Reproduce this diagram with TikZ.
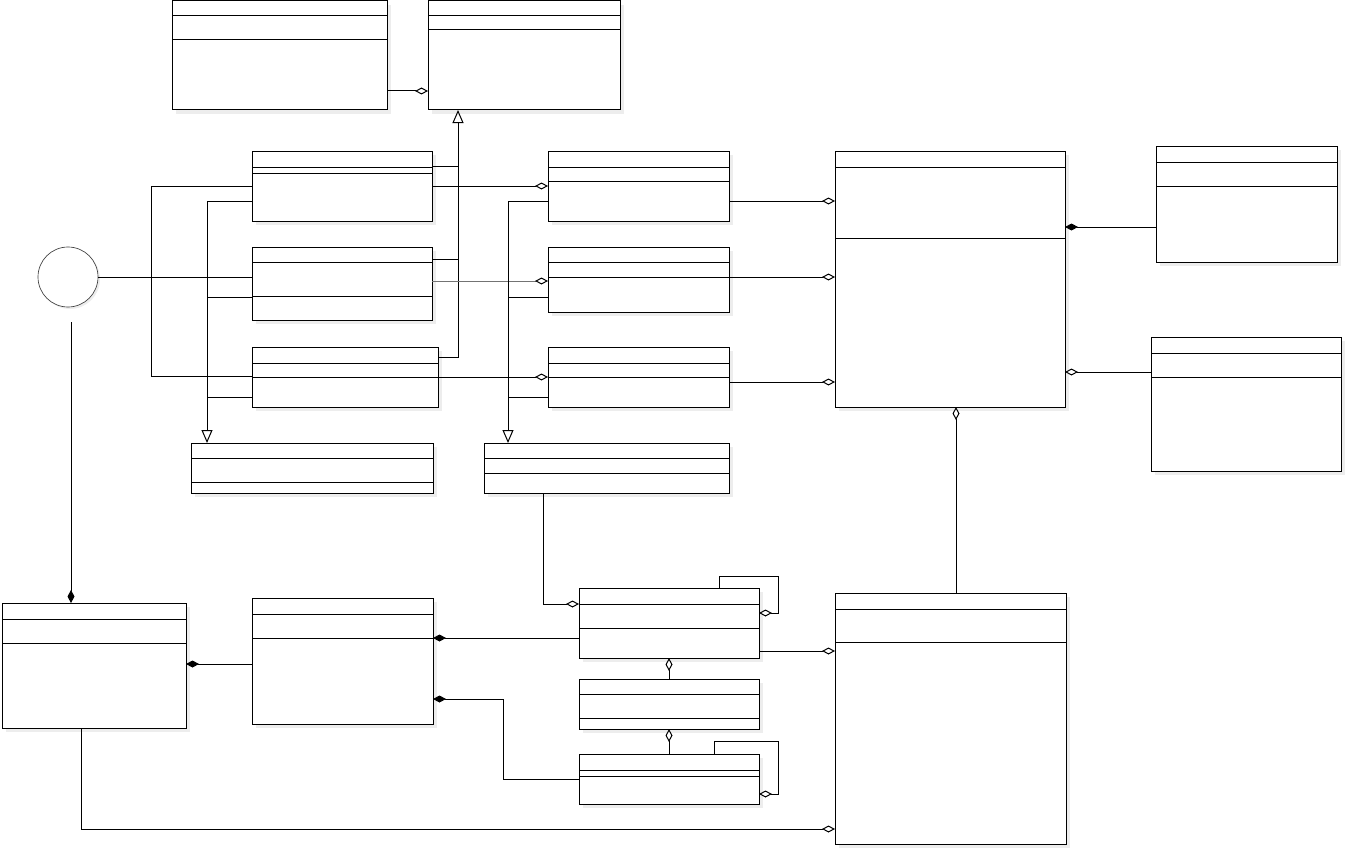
\documentclass[tikz,border=0pt]{standalone}
\usetikzlibrary{arrows.meta}
\tikzset{
 cls/.style={draw=black, fill=white, line width=0.75pt, inner sep=0pt, outer sep=0pt, anchor=north west},
 shd/.style={fill=black!7, draw=none},
 con/.style={line width=0.75pt},
 agg/.style={con, -{Diamond[open,fill=white,length=9.75pt,width=5.25pt]}},
 aggk/.style={con, -{Diamond[open,fill=white,color=black,length=9.75pt,width=5.25pt]}},
 comp/.style={con, -{Diamond[length=9.75pt,width=5.25pt]}},
 gen/.style={con, -{Triangle[open,fill=white,length=9.75pt,width=8.25pt]}},
}
\newcommand\umlcls[7]{%
 \fill[shd] (#2+4,#3+4) rectangle (#4+4,#5+4);
 \node[cls, minimum width={(#4-#2)*0.75pt}, minimum height={(#5-#3)*0.75pt}] (#1) at (#2,#3) {};
 \draw[con] (#2,#6) -- (#4,#6) (#2,#7) -- (#4,#7);
}
\begin{document}
\begin{tikzpicture}[x=0.75pt,y=-0.75pt]
\useasboundingbox (0,0) rectangle (1346,849);
% classes
\umlcls{A}{172}{1}{387}{110}{16}{40}
\umlcls{B}{428}{1}{620}{110}{16}{30}
\umlcls{C1}{252}{151}{432}{221}{167}{173}
\umlcls{C2}{252}{247}{432}{320}{262}{296}
\umlcls{C3}{252}{347}{438}{407}{363}{377}
\umlcls{D1}{191}{443}{433}{493}{458}{482}
\umlcls{D2}{484}{443}{729}{493}{458}{473}
\umlcls{E1}{548}{151}{729}{221}{167}{181}
\umlcls{E2}{548}{247}{729}{312}{262}{277}
\umlcls{E3}{548}{347}{729}{407}{363}{377}
\umlcls{F}{835}{151}{1065}{407}{167}{238}
\umlcls{G}{1156}{146}{1337}{262}{162}{186}
\umlcls{H}{1151}{337}{1341}{471}{353}{377}
\umlcls{J}{835}{593}{1066}{844}{609}{642}
\umlcls{K}{2}{603}{186}{728}{619}{643}
\umlcls{L}{252}{598}{433}{724}{614}{638}
\umlcls{M}{579}{588}{759}{658}{604}{628}
\umlcls{P}{579}{679}{759}{729}{694}{718}
\umlcls{N}{579}{754}{759}{804}{770}{776}
% interface circle
\fill[shd] (70,279) circle (30);
\node[draw=black!75, fill=white, circle, line width=0.5pt, minimum size=45pt, inner sep=0pt, outer sep=0pt] (I) at (68,277) {};
\coordinate (t) at (71,322);
% connectors
\draw[agg] (A.east |- 0,91) -- (B.west |- 0,91);
\draw[gen] (C3.east |- 0,357) -- (458,357) -- (B.south -| 458,0);
\draw[con] (C1.east |- 0,166) -- (458,166);
\draw[con] (C2.east |- 0,259) -- (458,259);
\draw[con] (I.east) -- (C2.west |- 0,277);
\draw[con] (C1.west |- 0,186) -- (151,186) -- (151,376) -- (C3.west |- 0,376);
\draw[gen] (C1.west |- 0,201) -- (207,201) -- (D1.north -| 207,0);
\draw[con] (C2.west |- 0,297) -- (207,297);
\draw[con] (C3.west |- 0,397) -- (207,397);
\draw[agg] (C1.east |- 0,186) -- (E1.west |- 0,186);
\draw[aggk, draw=black!55] (C2.east |- 0,281) -- (E2.west |- 0,281);
\draw[agg] (C3.east |- 0,377) -- (E3.west |- 0,377);
\draw[gen] (E1.west |- 0,201) -- (508,201) -- (D2.north -| 508,0);
\draw[con] (E2.west |- 0,297) -- (508,297);
\draw[con] (E3.west |- 0,397) -- (508,397);
\draw[agg] (E1.east |- 0,201) -- (F.west |- 0,201);
\draw[agg] (E2.east |- 0,277) -- (F.west |- 0,277);
\draw[agg] (E3.east |- 0,382) -- (F.west |- 0,382);
\draw[comp] (G.west |- 0,227) -- (F.east |- 0,227);
\draw[agg] (H.west |- 0,372) -- (F.east |- 0,372);
\draw[agg] (J.north -| 956,0) -- (F.south -| 956,0);
\draw[comp] (t) -- (K.north -| 71,0);
\draw[comp] (L.west |- 0,664) -- (K.east |- 0,664);
\draw[comp] (M.west |- 0,638) -- (L.east |- 0,638);
\draw[comp] (N.west |- 0,779) -- (503,779) -- (503,699) -- (L.east |- 0,699);
\draw[agg] (D2.south -| 543,0) -- (543,604) -- (M.west |- 0,604);
\draw[agg] (M.north -| 719,0) -- (719,576) -- (778,576) -- (778,613) -- (M.east |- 0,613);
\draw[agg] (M.east |- 0,651) -- (J.west |- 0,651);
\draw[agg] (P.north -| 669,0) -- (M.south -| 669,0);
\draw[agg] (N.north -| 669,0) -- (P.south -| 669,0);
\draw[agg] (N.north -| 714,0) -- (714,741) -- (778,741) -- (778,794) -- (N.east |- 0,794);
\draw[agg] (K.south -| 81,0) -- (81,829) -- (J.west |- 0,829);
\end{tikzpicture}
\end{document}
